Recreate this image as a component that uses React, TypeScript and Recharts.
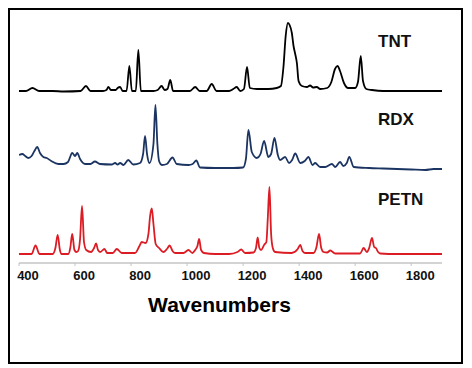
import React from 'react';
import { LineChart, Line, XAxis, YAxis } from 'recharts';

// Raman spectra: [wavenumber, intensity (arb.)]
const tnt: [number, number][] = [
  [400, 0], [425, 0], [448, 3], [472, 0], [520, 0], [560, -0.5], [620, 0], [639, 5], [655, 0],
  [700, 0], [712, 1], [719, 4], [728, 1], [745, 1], [752, 3], [761, 4], [770, 0], [784, 0],
  [794, 25], [803, 0], [817, 0], [826, 41], [835, 0], [880, 0], [895, 1], [909, 5], [920, 1],
  [930, 2], [940, 11], [950, 0], [1010, 0], [1029, 4], [1045, 0], [1070, 0], [1088, 7], [1105, 0],
  [1150, 0], [1165, 2], [1177, 4], [1190, 0], [1203, 2], [1214, 24], [1224, 3], [1250, 2],
  [1290, 2], [1320, 3], [1335, 5], [1344, 24], [1352, 55], [1360, 68], [1366, 66], [1374, 58],
  [1380, 45], [1386, 37], [1392, 28], [1398, 10], [1410, 5], [1428, 4], [1439, 5.5], [1450, 3.5],
  [1463, 4], [1475, 2], [1500, 3], [1515, 9], [1528, 22], [1537, 25], [1546, 20], [1560, 8],
  [1575, 3], [1600, 3], [1610, 9], [1620, 35], [1628, 10], [1640, 2], [1660, 1], [1700, 0],
  [1800, 0], [1860, 0], [1910, 0],
];

const rdx: [number, number][] = [
  [400, 14], [412, 15], [422, 13], [433, 11], [445, 13], [455, 18], [465, 22], [475, 16], [487, 12],
  [499, 11], [515, 8], [541, 5], [559, 5], [575, 7], [590, 16], [600, 13], [608, 16], [618, 10],
  [636, 5], [655, 5], [671, 7.5], [689, 5], [731, 4.5], [743, 6], [752, 4.5], [761, 6], [773, 4],
  [790, 9], [808, 4.5], [832, 6], [843, 15], [850, 33], [857, 15], [866, 6], [880, 25], [887, 64],
  [894, 25], [900, 8], [910, 4], [928, 5], [948, 11.5], [963, 5], [1005, 4], [1020, 5], [1033, 8.5],
  [1046, 1.5], [1100, 1], [1165, 1], [1200, 1.5], [1210, 10], [1219, 39], [1231, 17], [1249, 11],
  [1262, 15], [1275, 28], [1290, 12], [1300, 15], [1312, 31], [1324, 14], [1332, 9], [1350, 12],
  [1364, 6], [1375, 9], [1386, 15.5], [1404, 6], [1420, 8], [1433, 12], [1448, 4], [1457, 6],
  [1475, 2], [1493, 2], [1517, 5], [1529, 2], [1546, 7], [1558, 3], [1570, 6], [1579, 12],
  [1595, 2], [1650, 1], [1700, 0.5], [1800, -0.5], [1850, -1], [1880, 0], [1910, 0],
];

const petn: [number, number][] = [
  [400, 0], [445, 0], [459, 8.5], [473, 0], [520, 0], [530, 6], [538, 19], [546, 4], [552, 0],
  [576, 0], [583, 6], [590, 20], [598, 4], [605, 2], [611, 3], [618, 15], [625, 48], [632, 12],
  [640, 4], [657, 2], [668, 6], [675, 10.5], [682, 4], [690, 2], [705, 5], [715, 1], [735, 1],
  [749, 5], [767, 1], [814, 1], [830, 8], [838, 12], [852, 11], [862, 20], [868, 38], [874, 45.5],
  [880, 30], [888, 10], [900, 6], [915, 2], [928, 5], [938, 8.5], [948, 3], [957, 1], [987, 1],
  [1005, 4], [1019, 1], [1029, 4], [1037, 8], [1043, 15], [1050, 4], [1060, 1], [1100, 0],
  [1150, 0], [1180, 2], [1193, 4.5], [1207, 1], [1237, 1.5], [1246, 6], [1252, 16.5], [1258, 6],
  [1264, 4], [1276, 9.5], [1283, 12], [1288, 35], [1294, 67], [1300, 20], [1306, 6], [1314, 2],
  [1373, 1], [1395, 5], [1404, 9], [1412, 3], [1421, 1], [1451, 1], [1462, 7], [1471, 20],
  [1479, 6], [1487, 2], [1500, 1.5], [1511, 3.5], [1529, 0.5], [1618, 0.5], [1630, 6], [1642, 2],
  [1650, 6], [1660, 16], [1668, 7], [1674, 6], [1682, 2], [1689, 0.5], [1750, 0], [1910, 0],
];

const xTicks = [400, 600, 800, 1000, 1200, 1400, 1600, 1800];
const seriesNames = ['TNT', 'RDX', 'PETN'];
const xLabel = 'Wavenumbers';

// vertical stacking offsets (layout only)
const OFFSETS = [172, 94, 9];
const COLORS = ['#000000', '#1b3462', '#dc1c24'];
const FONT = '"Liberation Sans", Arial, sans-serif';

const toRows = (arr: [number, number][]) => arr.map(([x, y]) => ({ x, y }));

const Tick = (props: any) => {
  const { x, y, payload } = props;
  return (
    <text x={x + 9} y={y + 12} textAnchor="middle" fontFamily={FONT} fontWeight="bold" fontSize={13} fill="#111">
      {payload.value}
    </text>
  );
};

export default function App() {
  const sets = [tnt, rdx, petn];
  return (
    <div style={{ position: 'relative', width: 456, height: 356 }}>
      <div
        style={{
          position: 'absolute', left: 0, top: 0, width: 455, height: 356,
          border: '2px solid #000', boxSizing: 'border-box',
        }}
      />
      <div style={{ position: 'absolute', left: -8, top: -8 }}>
        <LineChart width={472} height={368} margin={{ top: 13, right: 30, bottom: 75, left: 19 }}>
          <XAxis
            dataKey="x"
            type="number"
            domain={[400, 1910]}
            ticks={xTicks}
            allowDataOverflow
            axisLine={{ stroke: '#c4c4c4', strokeWidth: 1.5 }}
            tickLine={{ stroke: '#c4c4c4' }}
            tickSize={3}
            tickMargin={2}
            height={30}
            tick={<Tick />}
          />
          <YAxis hide type="number" domain={[0, 250]} allowDataOverflow />
          {sets.map((s, i) => (
            <Line
              key={seriesNames[i]}
              data={toRows(s)}
              dataKey={(d: any) => d.y + OFFSETS[i]}
              type="monotone"
              stroke={COLORS[i]}
              strokeWidth={1.8}
              dot={false}
              activeDot={false}
              isAnimationActive={false}
            />
          ))}
        </LineChart>
        <svg width={472} height={368} style={{ position: 'absolute', left: 0, top: 0, pointerEvents: 'none' }}>
          <text x={378} y={46.5} fontFamily={FONT} fontWeight="bold" fontSize={17} fill="#111">{seriesNames[0]}</text>
          <text x={378} y={125} fontFamily={FONT} fontWeight="bold" fontSize={17} fill="#111">{seriesNames[1]}</text>
          <text x={378} y={205} fontFamily={FONT} fontWeight="bold" fontSize={17} fill="#111">{seriesNames[2]}</text>
          <text x={219.5} y={312} textAnchor="middle" fontFamily={FONT} fontWeight="bold" fontSize={21} fill="#000">{xLabel}</text>
        </svg>
      </div>
    </div>
  );
}
